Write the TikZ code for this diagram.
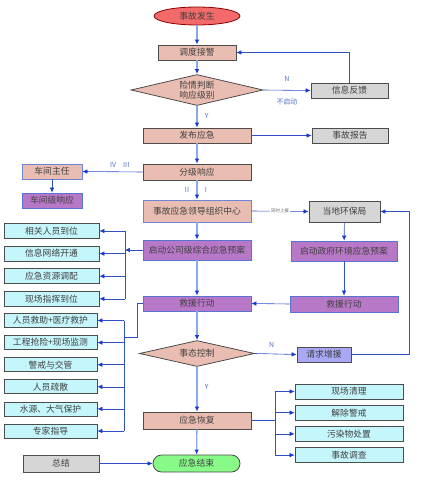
\documentclass[tikz,border=0pt]{standalone}
\usepackage{fontspec}
\setmainfont{Noto Sans CJK SC}
\usepackage{xcolor}
\usetikzlibrary{arrows.meta,positioning,calc,shapes.geometric}

\definecolor{pinkbox}{HTML}{E9BDB1}
\definecolor{purplebox}{HTML}{B878C8}
\definecolor{cyanbox}{HTML}{C4F6FC}
\definecolor{graybox}{HTML}{D6D6D6}
\definecolor{violetbox}{HTML}{A8A8F4}
\definecolor{greenbox}{HTML}{88FA88}
\definecolor{redbox}{HTML}{F26A6A}
\definecolor{spine}{HTML}{86AAE6}
\definecolor{branch}{HTML}{3050C8}
\definecolor{tipblue}{HTML}{1838D0}
\definecolor{labblue}{HTML}{5070C8}

\begin{document}
\begin{tikzpicture}[x=1bp, y=-1bp, font=\fontsize{8.8}{10.5}\selectfont,
  box/.style={draw=black!70, line width=0.8pt, inner sep=0pt, text=black!75, align=center},
  pinkn/.style={box, fill=pinkbox},
  purplen/.style={box, fill=purplebox, draw=branch!80},
  cyann/.style={box, fill=cyanbox},
  grayn/.style={box, fill=graybox},
  decide/.style={diamond, box, fill=pinkbox, aspect=4.3},
  sz/.style args={#1x#2}{minimum width=#1bp, minimum height=#2bp},
  main/.style={draw=spine, line width=1.3pt, -{Latex[length=5pt, width=4.5pt, color=tipblue]}},
  arr/.style={draw=branch, line width=0.6pt, -{Latex[length=5pt, width=4.5pt, color=tipblue]}},
  wire/.style={draw=branch, line width=0.6pt},
  lab/.style={text=labblue, font=\fontsize{7}{7.5}\selectfont}]
\useasboundingbox (0,0) rectangle (434,482);

% main column
\node[ellipse, box, fill=redbox, draw=red!55!black, sz=86x18] (start) at (197,16) {事故发生};
\node[pinkn, sz=78x15] (recv) at (197,52.5) {调度接警};
\node[decide, sz=132x31] (judge) at (197,90) {险情判断\\响应级别};
\node[grayn, sz=77x15] (feedback) at (349.5,90.5) {信息反馈};
\node[pinkn, sz=108x15] (publish) at (197,135.5) {发布应急};
\node[grayn, sz=76x15] (report) at (350,135.5) {事故报告};
\node[pinkn, sz=108x16] (grade) at (197,172) {分级响应};
\node[pinkn, draw=branch!70, sz=60x15] (director) at (52,171.5) {车间主任};
\node[purplen, sz=60x15] (workshop) at (52,200.5) {车间级响应};
\node[pinkn, draw=branch!70, sz=108x22] (center) at (197,211) {事故应急领导组织中心};
\node[grayn, sz=71x21] (epb) at (344.5,211.5) {当地环保局};
\node[purplen, sz=108x20] (corp) at (197,250) {启动公司级综合应急预案};
\node[purplen, sz=106x20] (gov) at (344,251) {启动政府环境应急预案};
\node[purplen, sz=108x15] (rescueL) at (197,303.5) {救援行动};
\node[purplen, sz=108x16] (rescueR) at (344,304) {救援行动};
\node[decide, sz=115x26] (control) at (197,353.5) {事态控制};
\node[box, fill=violetbox, sz=54x15] (reinforce) at (324,354.5) {请求增援};
\node[pinkn, sz=108x17] (recover) at (197,420.5) {应急恢复};
\node[box, fill=greenbox, rounded corners=8.5bp, sz=87x17] (finish) at (196.5,463.5) {应急结束};
\node[grayn, sz=76x17] (summary) at (61,463.5) {总结};

% spine
\draw[main] (start) -- (recv);
\draw[main] (recv) -- (judge);
\draw[main] (judge) -- node[lab, right=4pt, pos=0.45] {Y} (publish);
\draw[main] (publish) -- (grade);
\draw[main] (grade) -- node[lab, left=4pt] {II} node[lab, right=4pt] {I} (center);
\draw[main] (center) -- (corp);
\draw[main] (corp) -- (rescueL);
\draw[main] (rescueL) -- (control);
\draw[main] (control) -- node[lab, right=4pt, pos=0.45] {Y} (recover);
\draw[main] (recover) -- (finish);

% side branches
\draw[arr] (judge.east) -- node[lab, above=5pt] {N} node[lab, below=5pt] {不启动} (feedback.west);
\draw[arr] (feedback.north) |- (recv.east);
\draw[arr] (publish.east) -- (report.west);
\draw[arr] (grade.west) -- node[lab, above=1pt, pos=0.38] {IV\quad III} (director.east);
\draw[arr] (director) -- (workshop);
\draw[arr] (center.east) -- node[fill=white, inner sep=1pt, text=black!60,
  font=\fontsize{4.5}{5}\selectfont] {同时上报} (epb.west);
\draw[arr] (epb) -- (gov);
\draw[arr] (gov) -- (rescueR);
\draw[arr] (rescueR.west) -- (rescueL.east);
\draw[arr] (control.east) -- node[lab, above=3pt, pos=0.4] {N} (reinforce.west);
\draw[arr] (reinforce.east) -- (409,354.5) |- (epb.east);
\draw[arr] (summary.east) -- (finish.west);

% company plan -> preparation tasks
\coordinate (busA) at (125,250);
\draw[arr] (corp.west) -- (busA);
\foreach \r/\lab in {0/相关人员到位, 1/信息网络开通, 2/应急资源调配, 3/现场指挥到位} {
  \node[cyann, sz=95x15] (prep\r) at (51.5,231+22.6*\r) {\lab};
  \draw[arr] (125,231+22.6*\r) -- (prep\r.east);
}
\draw[wire] (125,231) -- (125,298.8);

% rescue -> field tasks
\coordinate (busB) at (124,337);
\draw[wire] (rescueL.west) -- ++(-5,0) |- (busB);
\foreach \r/\lab in {0/人员救助+医疗救护, 1/工程抢险+现场监测, 2/警戒与交管, 3/人员疏散, 4/水源、大气保护, 5/专家指导} {
  \node[cyann, sz=93x14] (task\r) at (50.5,320.5+22.1*\r) {\lab};
  \draw[arr] (124,320.5+22.1*\r) -- (task\r.east);
}
\draw[wire] (124,320.5) -- (124,431);

% recovery -> closing tasks
\coordinate (busC) at (275,420.5);
\draw[wire] (recover.east) -- (busC);
\foreach \r/\lab in {0/现场清理, 1/解除警戒, 2/污染物处置, 3/事故调查} {
  \node[cyann, sz=108x15] (close\r) at (349,391.5+21.2*\r) {\lab};
  \draw[arr] (275,391.5+21.2*\r) -- (close\r.west);
}
\draw[wire] (275,391.5) -- (275,455.1);
\end{tikzpicture}
\end{document}
